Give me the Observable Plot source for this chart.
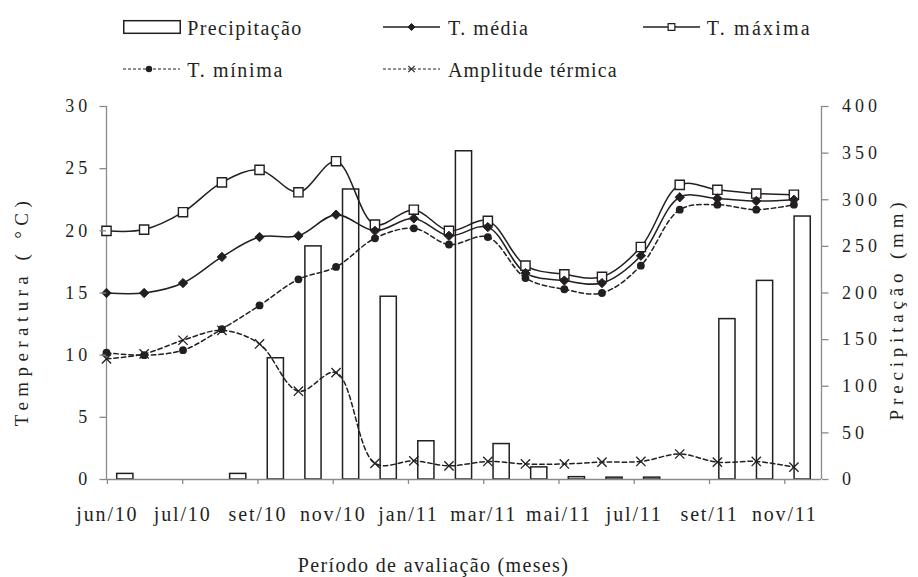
<!DOCTYPE html>
<html>
<head>
<meta charset="utf-8">
<script src="https://cdn.jsdelivr.net/npm/d3@7"></script>
<script src="https://cdn.jsdelivr.net/npm/@observablehq/plot@0.6"></script>
<style>
  body { margin: 0; background: #fff; }
  #wrap { width: 918px; height: 577px; position: relative; overflow: hidden;
          font-family: "Liberation Serif", "Times New Roman", Tinos, Times, "Nimbus Roman", "Nimbus Roman No9 L", FreeSerif, "Noto Serif", "DejaVu Serif", Georgia, serif;
          color: #231f20; }
  #legend { position: relative; width: 918px; height: 88px; }
  .lt { position: absolute; font-size: 20px; line-height: 20px; white-space: nowrap; }
  .lsym { position: absolute; overflow: visible; }
</style>
</head>
<body>
<div id="wrap">
  <div id="legend"></div>
  <div id="chart"></div>
</div>
<script>
// ---------- data ----------
const months = ["jun/10","jul/10","ago/10","set/10","out/10","nov/10","dez/10",
                "jan/11","fev/11","mar/11","abr/11","mai/11","jun/11","jul/11",
                "ago/11","set/11","out/11","nov/11","dez/11"];
const monthDates = ["2010-06-01","2010-07-01","2010-08-01","2010-09-01","2010-10-01","2010-11-01","2010-12-01",
                    "2011-01-01","2011-02-01","2011-03-01","2011-04-01","2011-05-01","2011-06-01","2011-07-01",
                    "2011-08-01","2011-09-01","2011-10-01","2011-11-01","2011-12-01"];
const precipitacao = [6, 0, 0, 6, 130, 250, 311, 196, 41, 352, 38, 13, 2.5, 2, 2, 0, 172, 213, 282];
const tMaxima  = [20.0, 20.1, 21.5, 23.9, 24.9, 23.1, 25.6, 20.5, 21.7, 20.0, 20.8, 17.2, 16.5, 16.3, 18.7, 23.7, 23.3, 23.0, 22.9];
const tMedia   = [15.0, 15.0, 15.8, 17.9, 19.5, 19.6, 21.3, 20.0, 21.0, 19.6, 20.3, 16.6, 16.0, 15.8, 18.0, 22.7, 22.6, 22.4, 22.5];
const tMinima  = [10.2, 10.0, 10.4, 12.1, 14.0, 16.1, 17.1, 19.4, 20.2, 18.9, 19.5, 16.2, 15.3, 15.0, 17.2, 21.7, 22.1, 21.7, 22.1];
const amplitude = [9.7, 10.1, 11.2, 12.0, 10.9, 7.1, 8.6, 1.3, 1.5, 1.1, 1.45, 1.25, 1.25, 1.4, 1.45, 2.05, 1.4, 1.45, 1.0];
const tickLabels = ["jun/10","jul/10","set/10","nov/10","jan/11","mar/11","mai/11","jul/11","set/11","nov/11"];
const tempTicks = [0, 5, 10, 15, 20, 25, 30];
const precTicks = [0, 50, 100, 150, 200, 250, 300, 350, 400];
const legendItems = ["Precipitação", "T. média", "T. máxima", "T. mínima", "Amplitude térmica"];

// ---------- setup ----------
const ink = "#231f20", gray = "#8a8a8a";
const FONT = "'Liberation Serif', 'Times New Roman', Tinos, Times, 'Nimbus Roman', 'Nimbus Roman No9 L', FreeSerif, 'Noto Serif', 'DejaVu Serif', Georgia, serif";
const start = Date.parse(monthDates[0]);
const dayOf = s => (Date.parse(s) - start) / 864e5;
const catDays = 30;                          // width of one column category (days)
const axisDays = catDays * months.length;    // date axis span
const majorUnit = 60;                        // date axis major unit (days)
const tickDays = tickLabels.map((_, i) => i * majorUnit);
const k = 30 / 400;                          // precipitation -> temperature axis factor
const barFrac = 0.43;

const rows = months.map((m, i) => ({
  i, m, day: dayOf(monthDates[i]),
  max: tMaxima[i], med: tMedia[i], min: tMinima[i], amp: amplitude[i], prec: precipitacao[i]
}));

// letter spacing needed so a text spans a given width in the loaded font
const ctx = document.createElement("canvas").getContext("2d");
function spacingFor(text, size, target) {
  ctx.font = `${size}px ${FONT}`;
  const w = ctx.measureText(text).width;
  return Math.max(-1, (target - w) / Math.max(1, text.length - 1));
}

// ---------- legend ----------
const legend = document.getElementById("legend");
function sym(type, cx, cy, r) {
  const p = d3.symbol().type(type).size(Math.PI * r * r)();
  return `<path transform="translate(${cx},${cy})" d="${p}"`;
}
const legendDefs = [
  {label: legendItems[0], sx: 123, tx: 187.3, row: 0, kind: "bar", w: 114},
  {label: legendItems[1], sx: 383, tx: 448,   row: 0, kind: "med", w: 80},
  {label: legendItems[2], sx: 643, tx: 706.7, row: 0, kind: "max", w: 103},
  {label: legendItems[3], sx: 123, tx: 187.3, row: 1, kind: "min", w: 95},
  {label: legendItems[4], sx: 383, tx: 448,   row: 1, kind: "amp", w: 168.7}
];
const rowY = [27, 69];
const rowTextTop = [18.3, 59.5];
for (const it of legendDefs) {
  const cy = rowY[it.row];
  let inner = "";
  const w = 58, h = 18, my = 9;
  if (it.kind === "bar") {
    inner = `<rect x="0.75" y="${my - 6.3}" width="56.5" height="12.6" fill="white" stroke="${ink}" stroke-width="1.5"/>`;
  } else if (it.kind === "med") {
    inner = `<line x1="0" x2="57" y1="${my}" y2="${my}" stroke="${ink}" stroke-width="1.5"/>` +
            sym(d3.symbolDiamond2, 28.5, my, 3.2) + ` fill="${ink}" stroke="${ink}" stroke-width="1"/>`;
  } else if (it.kind === "max") {
    inner = `<line x1="0" x2="57" y1="${my}" y2="${my}" stroke="${ink}" stroke-width="1.5"/>` +
            sym(d3.symbolSquare, 28.5, my, 3.8) + ` fill="white" stroke="${ink}" stroke-width="1.2"/>`;
  } else if (it.kind === "min") {
    inner = `<line x1="0" x2="57" y1="${my}" y2="${my}" stroke="${ink}" stroke-width="1.2" stroke-dasharray="3,2"/>` +
            `<circle cx="26" cy="${my}" r="3.2" fill="${ink}"/>`;
  } else {
    inner = `<line x1="0" x2="57" y1="${my}" y2="${my}" stroke="${ink}" stroke-width="1.2" stroke-dasharray="3,2"/>` +
            sym(d3.symbolTimes, 28.5, my, 3) + ` fill="none" stroke="${ink}" stroke-width="1.1"/>`;
  }
  const ls = spacingFor(it.label, 20, it.w);
  legend.insertAdjacentHTML("beforeend",
    `<svg class="lsym" width="${w}" height="${h}" style="left:${it.sx}px;top:${cy - my}px">${inner}</svg>` +
    `<div class="lt" style="left:${it.tx}px;top:${rowTextTop[it.row]}px;letter-spacing:${ls}px">${it.label}</div>`);
}

// ---------- chart ----------
const yTickLS = spacingFor("400", 18, 35);
const xTickLS = spacingFor("nov/10", 20, 64.7);
const chart = Plot.plot({
  width: 918,
  height: 489,
  marginTop: 18,
  marginBottom: 98,
  marginLeft: 106,
  marginRight: 97,
  style: {fontFamily: FONT, fontSize: "18px", color: ink, background: "white", overflow: "visible"},
  x: {type: "linear", domain: [0, axisDays]},
  y: {domain: [0, 30]},
  marks: [
    // columns (secondary axis, category positions)
    Plot.rectY(rows, {
      x1: d => d.i * catDays + catDays * (1 - barFrac) / 2,
      x2: d => d.i * catDays + catDays * (1 + barFrac) / 2,
      y1: 0, y2: d => d.prec * k,
      fill: "white", stroke: ink, strokeWidth: 1.5
    }),
    // axis lines
    Plot.ruleX([0], {stroke: gray, strokeWidth: 1.3}),
    Plot.ruleX([axisDays], {stroke: gray, strokeWidth: 1.3}),
    Plot.ruleY([0], {stroke: gray, strokeWidth: 1.3}),
    // lines
    Plot.line(rows, {x: "day", y: "max", curve: "catmull-rom", stroke: ink, strokeWidth: 1.5}),
    Plot.line(rows, {x: "day", y: "med", curve: "catmull-rom", stroke: ink, strokeWidth: 1.5}),
    Plot.line(rows, {x: "day", y: "min", curve: "catmull-rom", stroke: ink, strokeWidth: 1.5, strokeDasharray: "4.5,3"}),
    Plot.line(rows, {x: "day", y: "amp", curve: "catmull-rom", stroke: ink, strokeWidth: 1.5, strokeDasharray: "4.5,3"}),
    // markers
    Plot.dot(rows, {x: "day", y: "max", symbol: "square", r: 5.2, fill: "white", stroke: ink, strokeWidth: 1.4}),
    Plot.dot(rows, {x: "day", y: "med", symbol: "diamond2", r: 4.2, fill: ink, stroke: ink, strokeWidth: 1}),
    Plot.dot(rows, {x: "day", y: "min", symbol: "circle", r: 3.9, fill: ink, stroke: "none"}),
    Plot.dot(rows, {x: "day", y: "amp", symbol: "times", r: 4.3, fill: "none", stroke: ink, strokeWidth: 1.3}),
    // axes
    Plot.axisY({anchor: "left", ticks: tempTicks, tickSize: 6.5, tickPadding: 12.8 - yTickLS, stroke: gray, strokeWidth: 1.3,
                fill: ink, fontSize: 18, label: null}),
    Plot.axisY({anchor: "right", ticks: precTicks.map(v => v * k), tickFormat: v => String(Math.round(v / k)),
                tickSize: 6.5, tickPadding: 14, stroke: gray, strokeWidth: 1.3, fill: ink, fontSize: 18, label: null}),
    Plot.axisX({ticks: tickDays, tickFormat: d => tickLabels[tickDays.indexOf(d)], tickSize: 5, tickPadding: 22,
                stroke: gray, strokeWidth: 1.3, fill: ink, fontSize: 20, label: null, dx: xTickLS / 2}),
    // axis titles
    Plot.text(["Temperatura ( °C)"], {frameAnchor: "left", textAnchor: "middle", lineAnchor: "middle",
                rotate: -90, dx: -84.5, dy: 18, fontSize: 19, fill: ink}),
    Plot.text(["Precipitação (mm)"], {frameAnchor: "right", textAnchor: "middle", lineAnchor: "middle",
                rotate: -90, dx: 75.5, dy: 16, fontSize: 19, fill: ink}),
    Plot.text(["Período de avaliação (meses)"], {frameAnchor: "bottom", textAnchor: "middle", lineAnchor: "middle",
                dx: -30.5, dy: 86.3, fontSize: 20, fill: ink})
  ]
});
document.getElementById("chart").appendChild(chart);

// letter spacing to match the wide typesetting of the original
chart.querySelectorAll('g[aria-label="y-axis tick label"] text').forEach(t => t.style.letterSpacing = yTickLS + "px");
chart.querySelectorAll('g[aria-label="x-axis tick label"] text').forEach(t => t.style.letterSpacing = xTickLS + "px");
const titleWidths = {"Temperatura ( °C)": [19, 225], "Precipitação (mm)": [19, 218], "Período de avaliação (meses)": [20, 270]};
chart.querySelectorAll("text").forEach(t => {
  const spec = titleWidths[t.textContent];
  if (spec) t.style.letterSpacing = spacingFor(t.textContent, spec[0], spec[1]) + "px";
});
</script>
</body>
</html>
